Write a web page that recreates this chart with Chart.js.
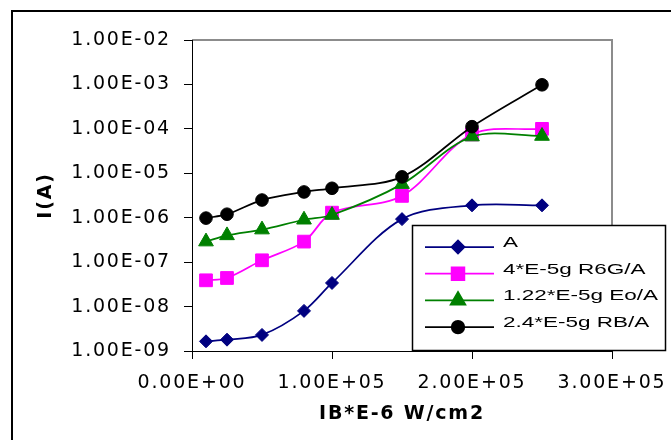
<!DOCTYPE html>
<html><head><meta charset="utf-8">
<script src="https://cdn.jsdelivr.net/npm/chart.js@4.4.0/dist/chart.umd.min.js"></script>
<style>html,body{margin:0;padding:0;background:#fff;}canvas{display:block;}</style>
</head><body>
<canvas id="c" width="671" height="440"></canvas>
<script>
// ---- data ----
const xValues = [1e4, 2.5e4, 5e4, 8e4, 1e5, 1.5e5, 2e5, 2.5e5];
const seriesLabels = ['A', '4*E-5g R6G/A', '1.22*E-5g Eo/A', '2.4*E-5g RB/A'];
const valuesA   = [1.65e-9, 1.8e-9, 2.3e-9, 8.0e-9, 3.4e-8, 9.3e-7, 1.9e-6, 1.9e-6];
const valuesR6G = [3.9e-8, 4.4e-8, 1.1e-7, 2.9e-7, 1.3e-6, 3.1e-6, 7.5e-5, 1.0e-4];
const valuesEo  = [2.9e-7, 4.0e-7, 5.4e-7, 9.0e-7, 1.15e-6, 5.7e-6, 6.7e-5, 6.9e-5];
const valuesRB  = [9.8e-7, 1.2e-6, 2.5e-6, 3.8e-6, 4.6e-6, 8.3e-6, 1.12e-4, 9.8e-4];
const xTickValues = [0, 1e5, 2e5, 3e5];
const yTickValues = [1e-9, 1e-8, 1e-7, 1e-6, 1e-5, 1e-4, 1e-3, 1e-2];
const xTitle = 'IB*E-6 W/cm2';
const yTitle = 'I(A)';

// ---- styles ----
const seriesValues = [valuesA, valuesR6G, valuesEo, valuesRB];
const colors = ['#000080', '#FF00FF', '#008000', '#000000'];
const pointStyles = ['rectRot', 'rect', 'triangle', 'circle'];
const pointRadii = [6.5, 9, 8.5, 6.3];

function sci(v) {
  if (v === 0) return '0.00E+00';
  const e = Math.floor(Math.log10(Math.abs(v)) + 1e-9);
  const m = v / Math.pow(10, e);
  return m.toFixed(2) + 'E' + (e < 0 ? '-' : '+') + String(Math.abs(e)).padStart(2, '0');
}

const datasets = seriesLabels.map((lab, i) => ({
  label: lab,
  data: xValues.map((x, j) => ({x: x, y: seriesValues[i][j]})),
  borderColor: colors[i],
  backgroundColor: colors[i],
  pointBackgroundColor: colors[i],
  pointBorderColor: colors[i],
  pointStyle: pointStyles[i],
  pointRadius: pointRadii[i],
  pointHoverRadius: pointRadii[i],
  pointBorderWidth: 1,
  borderWidth: 1.75,
  tension: 0.33,
  fill: false,
  order: seriesLabels.length - i
}));

const TEXT_SPACING = '1.8px';
const spacingPlugin = {
  id: 'spacing',
  beforeUpdate(chart) { chart.ctx.letterSpacing = TEXT_SPACING; },
  beforeDraw(chart) { chart.ctx.letterSpacing = TEXT_SPACING; }
};

const framePlugin = {
  id: 'frame',
  beforeDraw(chart) {
    const ctx = chart.ctx, a = chart.chartArea;
    ctx.save();
    ctx.strokeStyle = '#000'; ctx.lineWidth = 2;
    ctx.beginPath(); ctx.moveTo(12, 460); ctx.lineTo(12, 11); ctx.lineTo(700, 11); ctx.stroke();
    ctx.strokeStyle = '#8c8c8c'; ctx.lineWidth = 2;
    ctx.beginPath(); ctx.moveTo(a.left, a.top); ctx.lineTo(a.right, a.top); ctx.lineTo(a.right, a.bottom); ctx.stroke();
    ctx.restore();
  }
};

function drawMarker(ctx, style, r, x, y) {
  if (Chart.helpers && Chart.helpers.drawPoint) {
    Chart.helpers.drawPoint(ctx, {pointStyle: style, radius: r, rotation: 0, borderWidth: 1}, x, y);
    return;
  }
  ctx.beginPath(); ctx.arc(x, y, r, 0, Math.PI * 2); ctx.fill();
}

const boxLegend = {
  id: 'boxLegend',
  afterDraw(chart) {
    const ctx = chart.ctx;
    const bx = 412, by = 225, bw = 253, bh = 125;
    ctx.save();
    ctx.letterSpacing = '0px';
    ctx.fillStyle = '#fff';
    ctx.fillRect(bx, by, bw, bh);
    ctx.strokeStyle = '#000'; ctx.lineWidth = 1.5;
    ctx.strokeRect(bx + 0.5, by + 0.5, bw, bh);
    chart.data.datasets.forEach((ds, i) => {
      const y = 247 + i * 26.7;
      ctx.strokeStyle = ds.borderColor; ctx.lineWidth = ds.borderWidth;
      ctx.beginPath(); ctx.moveTo(425, y); ctx.lineTo(494, y); ctx.stroke();
      ctx.fillStyle = ds.pointBackgroundColor; ctx.strokeStyle = ds.pointBorderColor;
      drawMarker(ctx, ds.pointStyle, ds.pointRadius, 458, y);
      ctx.save();
      ctx.translate(503, y);
      ctx.scale(1.5, 1);
      ctx.fillStyle = '#000';
      ctx.font = '15px "Liberation Sans", Arial, sans-serif';
      ctx.textAlign = 'left'; ctx.textBaseline = 'alphabetic';
      ctx.fillText(ds.label, 0, 0);
      ctx.restore();
    });
    ctx.restore();
  }
};

const tickFont = {family: '"DejaVu Sans", sans-serif', size: 19};
const titleFont = {family: '"DejaVu Sans", sans-serif', size: 19, weight: 'bold', lineHeight: 1.2};

new Chart(document.getElementById('c'), {
  type: 'line',
  data: {datasets: datasets},
  options: {
    responsive: false,
    animation: false,
    layout: {padding: {left: 31, top: 40, right: 59, bottom: 0}},
    plugins: {legend: {display: false}, tooltip: {enabled: false}},
    scales: {
      x: {
        type: 'linear', min: 0, max: 3e5,
        afterBuildTicks: s => { s.ticks = xTickValues.map(v => ({value: v})); },
        afterFit: s => { s.height = 89; s.paddingLeft = 0; s.paddingRight = 0; },
        ticks: {callback: v => sci(v), font: tickFont, color: '#000', padding: 13, maxRotation: 0, autoSkip: false},
        grid: {drawOnChartArea: false, drawTicks: true, tickLength: 8, tickColor: '#000', tickWidth: 1},
        border: {display: true, color: '#000', width: 1},
        title: {display: true, text: xTitle, font: titleFont, color: '#000', padding: {top: 0, bottom: 14.6}}
      },
      y: {
        type: 'logarithmic', min: 1e-9, max: 1e-2,
        afterBuildTicks: s => { s.ticks = yTickValues.map(v => ({value: v})); },
        afterFit: s => { s.width = 161; },
        ticks: {callback: v => sci(v), font: tickFont, color: '#000', padding: 13, autoSkip: false},
        grid: {drawOnChartArea: false, drawTicks: true, tickLength: 8, tickColor: '#000', tickWidth: 1},
        border: {display: true, color: '#000', width: 1},
        title: {display: true, text: yTitle, font: titleFont, color: '#000', padding: {top: 4, bottom: 0}}
      }
    }
  },
  plugins: [spacingPlugin, framePlugin, boxLegend]
});
</script>
</body></html>
